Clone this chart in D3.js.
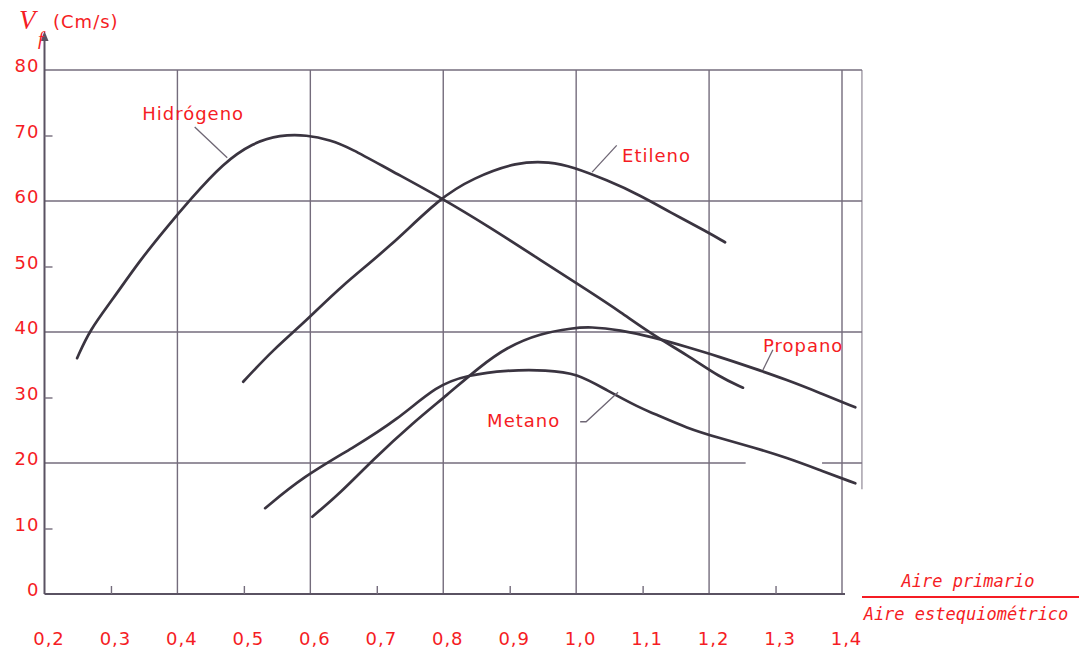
<!DOCTYPE html>
<html>
<head>
<meta charset="utf-8">
<script src="https://cdn.jsdelivr.net/npm/d3@7"></script>
<style>
  html, body { margin: 0; padding: 0; background: #ffffff; }
  svg { display: block; }
</style>
</head>
<body>
<svg id="chart"></svg>
<script>
// ratio aire primario / aire estequiométrico  vs  velocidad de llama (cm/s)
const xTicks = [0.2, 0.3, 0.4, 0.5, 0.6, 0.7, 0.8, 0.9, 1.0, 1.1, 1.2, 1.3, 1.4];
const xMinor = [0.3, 0.5, 0.7, 0.9, 1.1, 1.3];
const xGrid = [0.4, 0.6, 0.8, 1.0, 1.2, 1.4];
const yTicks = [0, 10, 20, 30, 40, 50, 60, 70, 80];
const yMinor = [10, 30, 50, 70];
const yGrid = [20, 40, 60, 80];

const hidrogeno = [
  [0.249, 36.0], [0.268, 40.3], [0.302, 44.9], [0.344, 51.0], [0.384, 56.0],
  [0.419, 60.2], [0.469, 65.8], [0.514, 68.9], [0.554, 70.1], [0.595, 70.1],
  [0.630, 69.3], [0.660, 68.1], [0.720, 64.7], [0.795, 60.6], [0.870, 56.0],
  [0.946, 51.0], [1.021, 46.1], [1.066, 43.1], [1.116, 39.5], [1.167, 36.5],
  [1.216, 33.1], [1.251, 31.5]
];
const etileno = [
  [0.499, 32.4], [0.544, 37.3], [0.595, 41.8], [0.645, 46.9], [0.720, 53.0],
  [0.795, 60.5], [0.845, 63.5], [0.911, 66.0], [0.961, 66.0], [0.995, 65.2],
  [1.046, 63.2], [1.096, 60.9], [1.141, 58.3], [1.197, 55.3], [1.224, 53.7]
];
const propano = [
  [0.603, 11.8], [0.645, 15.4], [0.694, 20.5], [0.754, 26.1], [0.806, 30.4],
  [0.855, 34.7], [0.896, 37.7], [0.946, 39.8], [0.995, 40.6], [1.021, 40.8],
  [1.066, 40.3], [1.116, 39.2], [1.167, 37.7], [1.216, 36.2], [1.266, 34.5],
  [1.317, 32.7], [1.367, 30.7], [1.420, 28.5]
];
const metano = [
  [0.532, 13.1], [0.589, 17.9], [0.664, 22.3], [0.731, 26.6], [0.791, 31.9],
  [0.836, 33.4], [0.896, 34.2], [0.956, 34.2], [1.001, 33.7], [1.046, 31.1],
  [1.096, 28.4], [1.116, 27.6], [1.167, 25.3], [1.216, 23.8], [1.266, 22.4],
  [1.317, 20.8], [1.367, 18.9], [1.420, 16.9]
];

const curves = [hidrogeno, etileno, propano, metano];

// etiquetas de las curvas con su línea guía (coordenadas en unidades de datos)
const labelNames = ['Hidrógeno', 'Etileno', 'Propano', 'Metano'];
const labelAt = [[0.347, 72.4], [1.069, 66.0], [1.281, 36.9], [0.866, 25.5]];
const leaders = [
  [[0.426, 71.3], [0.475, 66.6]],
  [[1.061, 68.5], [1.024, 64.4]],
  [[1.296, 37.3], [1.281, 34.2]],
  [[1.006, 26.3], [1.015, 26.3], [1.063, 30.8]]
];

const width = 1080;
const height = 650;
const red = '#f51c24';
const ink = '#3a3440';
const gridColor = '#746c7c';

const svg = d3.select('#chart')
  .attr('width', width)
  .attr('height', height);

const x = d3.scaleLinear().domain([0.2, 1.4]).range([44.5, 842]);
const y = d3.scaleLinear().domain([0, 80]).range([594, 70]);

const comma = d3.formatLocale({ decimal: ',', thousands: '.', grouping: [3], currency: ['', ''] });
const fmtX = comma.format('.1f');

// grid
svg.append('g')
  .selectAll('line')
  .data(yGrid)
  .join('line')
  .attr('x1', x(0.2))
  .attr('x2', d => d === 20 ? x(1.255) : x(1.43))
  .attr('y1', d => y(d))
  .attr('y2', d => y(d))
  .attr('stroke', gridColor)
  .attr('stroke-width', 1.4);

// short piece of the 20 line near the right frame
svg.append('line')
  .attr('x1', x(1.37)).attr('x2', x(1.43))
  .attr('y1', y(20)).attr('y2', y(20))
  .attr('stroke', gridColor)
  .attr('stroke-width', 1.4);

svg.append('g')
  .selectAll('line')
  .data(xGrid)
  .join('line')
  .attr('x1', d => x(d))
  .attr('x2', d => x(d))
  .attr('y1', y(80))
  .attr('y2', y(0))
  .attr('stroke', gridColor)
  .attr('stroke-width', 1.4);

// right frame
svg.append('line')
  .attr('x1', x(1.43)).attr('x2', x(1.43))
  .attr('y1', y(80)).attr('y2', y(16))
  .attr('stroke', gridColor)
  .attr('stroke-width', 1.2)
  .attr('opacity', 0.8);

// axes lines
svg.append('line')
  .attr('x1', x(0.2)).attr('x2', x(0.2))
  .attr('y1', 38).attr('y2', y(0))
  .attr('stroke', '#5a5262')
  .attr('stroke-width', 2);

svg.append('path')
  .attr('d', d3.line()([[x(0.2) - 4, 41], [x(0.2), 31], [x(0.2) + 4, 41]]) + 'Z')
  .attr('fill', '#5a5262');

svg.append('line')
  .attr('x1', x(0.2)).attr('x2', x(1.4) + 3)
  .attr('y1', y(0)).attr('y2', y(0))
  .attr('stroke', '#5a5262')
  .attr('stroke-width', 2);

// minor ticks
svg.append('g')
  .attr('transform', `translate(0, ${y(0)})`)
  .call(d3.axisTop(x).tickValues(xMinor).tickSize(8).tickFormat(''))
  .call(g => g.select('.domain').remove())
  .call(g => g.selectAll('line').attr('stroke', gridColor).attr('stroke-width', 1.4));

svg.append('g')
  .attr('transform', `translate(${x(0.2)}, 0)`)
  .call(d3.axisRight(y).tickValues(yMinor).tickSize(8).tickFormat(''))
  .call(g => g.select('.domain').remove())
  .call(g => g.selectAll('line').attr('stroke', gridColor).attr('stroke-width', 1.4));

// tick labels
svg.append('g')
  .attr('transform', `translate(0, ${y(0)})`)
  .call(d3.axisBottom(x).tickValues(xTicks).tickSize(0).tickFormat(fmtX))
  .call(g => g.select('.domain').remove())
  .call(g => g.selectAll('text')
    .attr('y', 51).attr('dy', 0).attr('dx', 4)
    .attr('fill', red)
    .style('font-family', 'DejaVu Sans, sans-serif')
    .style('font-size', '18px')
    .style('letter-spacing', '1px'));

svg.append('g')
  .attr('transform', `translate(${x(0.2)}, 0)`)
  .call(d3.axisLeft(y).tickValues(yTicks).tickSize(0).tickPadding(5))
  .call(g => g.select('.domain').remove())
  .call(g => g.selectAll('text')
    .attr('y', -4)
    .attr('fill', red)
    .style('font-family', 'DejaVu Sans, sans-serif')
    .style('font-size', '18px')
    .style('letter-spacing', '1px'));

// curves
const line = d3.line()
  .x(d => x(d[0]))
  .y(d => y(d[1]))
  .curve(d3.curveBasis);

svg.append('g')
  .selectAll('path')
  .data(curves)
  .join('path')
  .attr('d', line)
  .attr('fill', 'none')
  .attr('stroke', ink)
  .attr('stroke-width', 2.7)
  .attr('stroke-linecap', 'round')
  .attr('stroke-linejoin', 'round');

// leader lines and names
const plain = d3.line().x(d => x(d[0])).y(d => y(d[1]));

svg.append('g')
  .selectAll('path')
  .data(leaders)
  .join('path')
  .attr('d', plain)
  .attr('fill', 'none')
  .attr('stroke', '#6e6674')
  .attr('stroke-width', 1.3);

svg.append('g')
  .selectAll('text')
  .data(labelNames)
  .join('text')
  .attr('x', (d, i) => x(labelAt[i][0]))
  .attr('y', (d, i) => y(labelAt[i][1]))
  .attr('fill', red)
  .style('font-family', 'DejaVu Sans, sans-serif')
  .style('font-size', '18px')
  .style('letter-spacing', '1px')
  .text(d => d);

// y axis title
const yTitle = svg.append('g');
yTitle.append('text')
  .attr('x', 19).attr('y', 29)
  .attr('fill', red)
  .style('font-family', 'Liberation Serif, serif')
  .style('font-style', 'italic')
  .style('font-size', '27px')
  .text('V');
yTitle.append('text')
  .attr('x', 38).attr('y', 45)
  .attr('fill', red)
  .style('font-family', 'Liberation Serif, serif')
  .style('font-style', 'italic')
  .style('font-size', '19px')
  .text('f');
yTitle.append('text')
  .attr('x', 53).attr('y', 28)
  .attr('fill', red)
  .style('font-family', 'DejaVu Sans, sans-serif')
  .style('font-size', '18px')
  .style('letter-spacing', '1px')
  .text('(Cm/s)');

// x axis title (fraction)
const xTitle = svg.append('g');
xTitle.append('text')
  .attr('x', 968).attr('y', 587)
  .attr('text-anchor', 'middle')
  .attr('fill', red)
  .style('font-family', 'DejaVu Sans Mono, monospace')
  .style('font-style', 'italic')
  .style('font-size', '17px')
  .text('Aire primario');
xTitle.append('line')
  .attr('x1', 862).attr('x2', 1079)
  .attr('y1', 597).attr('y2', 597)
  .attr('stroke', red)
  .attr('stroke-width', 2);
xTitle.append('text')
  .attr('x', 966).attr('y', 620)
  .attr('text-anchor', 'middle')
  .attr('fill', red)
  .style('font-family', 'DejaVu Sans Mono, monospace')
  .style('font-style', 'italic')
  .style('font-size', '17px')
  .text('Aire estequiométrico');
</script>
</body>
</html>
